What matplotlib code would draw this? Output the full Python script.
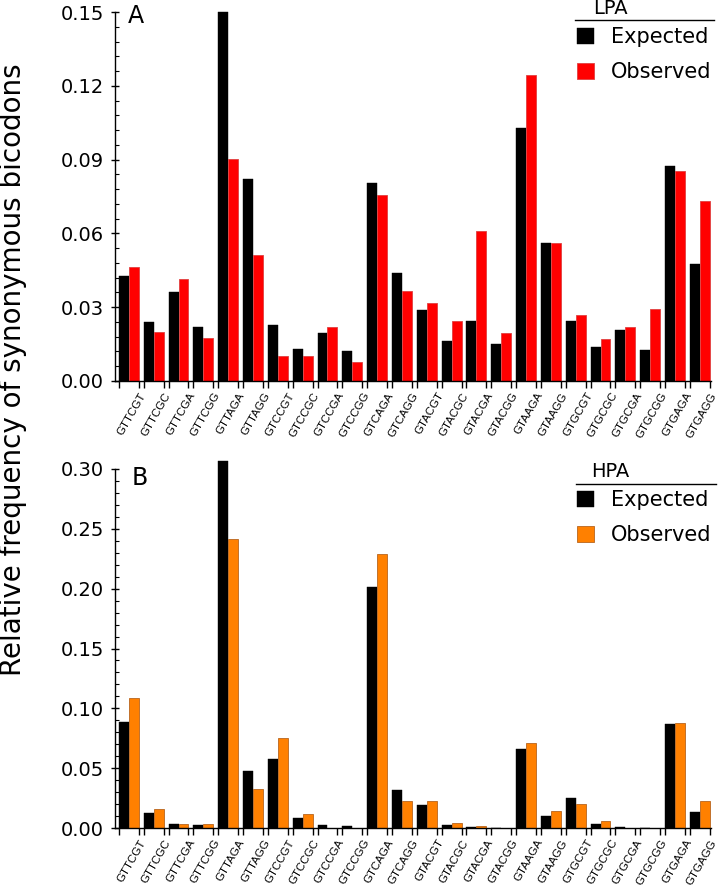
import matplotlib
matplotlib.use("Agg")
import matplotlib.pyplot as plt
from matplotlib.lines import Line2D
from matplotlib.ticker import MultipleLocator, FixedLocator
import numpy as np

plt.rc("font", family="DejaVu Sans")

bicodons = [
    "GTTCGT", "GTTCGC", "GTTCGA", "GTTCGG", "GTTAGA", "GTTAGG",
    "GTCCGT", "GTCCGC", "GTCCGA", "GTCCGG", "GTCAGA", "GTCAGG",
    "GTACGT", "GTACGC", "GTACGA", "GTACGG", "GTAAGA", "GTAAGG",
    "GTGCGT", "GTGCGC", "GTGCGA", "GTGCGG", "GTGAGA", "GTGAGG",
]

# panel A (LPA)
lpa_expected = [0.0425, 0.0241, 0.0361, 0.0221, 0.1500, 0.0822,
                0.0228, 0.0132, 0.0197, 0.0121, 0.0804, 0.0440,
                0.0288, 0.0164, 0.0243, 0.0151, 0.1029, 0.0561,
                0.0243, 0.0140, 0.0208, 0.0128, 0.0872, 0.0477]
lpa_observed = [0.0465, 0.0198, 0.0416, 0.0174, 0.0903, 0.0514,
                0.0100, 0.0100, 0.0221, 0.0076, 0.0757, 0.0365,
                0.0317, 0.0243, 0.0610, 0.0196, 0.1245, 0.0561,
                0.0268, 0.0171, 0.0219, 0.0292, 0.0855, 0.0732]

# panel B (HPA)
hpa_expected = [0.0885, 0.0125, 0.0036, 0.0022, 0.3070, 0.0476,
                0.0579, 0.0083, 0.0022, 0.0014, 0.2012, 0.0314,
                0.0189, 0.0028, 0.0008, 0.0, 0.0657, 0.0100,
                0.0250, 0.0033, 0.0011, 0.0003, 0.0871, 0.0134]
hpa_observed = [0.1083, 0.0161, 0.0036, 0.0036, 0.2416, 0.0328,
                0.0751, 0.0120, 0.0003, 0.0003, 0.2291, 0.0223,
                0.0223, 0.0039, 0.0019, 0.0, 0.0712, 0.0142,
                0.0203, 0.0061, 0.0003, 0.0003, 0.0879, 0.0223]

red = "#ff0000"
orange = "#ff8000"
W, H = 720, 886


def fx(px):
    return px / W


def fy(py):
    return 1 - py / H


fig = plt.figure(figsize=(7.2, 8.86), dpi=100)
ax_a = fig.add_axes([fx(115), fy(381), fx(711) - fx(115), fy(12) - fy(381)])
ax_b = fig.add_axes([fx(115), fy(828), fx(711) - fx(115), fy(469) - fy(828)])

x = np.arange(len(bicodons))
bw = 0.4


def draw_panel(ax, expected, observed, obs_color, obs_edge, ytop, ystep, yminor):
    ax.bar(x, expected, width=bw, align="edge", color="black",
           edgecolor="black", linewidth=0.3, clip_on=False, label="Expected")
    ax.bar(x + bw, observed, width=bw, align="edge", color=obs_color,
           edgecolor=obs_edge, linewidth=0.6, clip_on=False, label="Observed")
    ax.set_xlim(-0.16, len(bicodons) - 0.15)
    ax.set_ylim(0, ytop)
    ax.spines["top"].set_visible(False)
    ax.spines["right"].set_visible(False)
    ax.yaxis.set_major_locator(MultipleLocator(ystep))
    ax.yaxis.set_minor_locator(MultipleLocator(yminor))
    ax.yaxis.set_major_formatter(plt.FormatStrFormatter("%.2f"))
    ax.tick_params(axis="y", which="major", direction="inout", length=6,
                   width=1, labelsize=14, pad=5)
    ax.tick_params(axis="y", which="minor", direction="in", length=3, width=0.8)
    ax.xaxis.set_major_locator(FixedLocator(x + 2 * bw))
    ax.xaxis.set_minor_locator(FixedLocator(x))
    ax.set_xticklabels(bicodons, rotation=60, ha="right",
                       rotation_mode="anchor", fontsize=8.2,
                       family="Liberation Sans")
    ax.tick_params(axis="x", which="both", direction="out", length=5,
                   width=1, pad=2)
    ax.spines["left"].set_linewidth(1)
    ax.spines["bottom"].set_linewidth(1)


draw_panel(ax_a, lpa_expected, lpa_observed, red, "#e04040", 0.15, 0.03, 0.006)
draw_panel(ax_b, hpa_expected, hpa_observed, orange, "#b8651e", 0.30, 0.05, 0.01)

fig.text(fx(128), fy(4), "A", fontsize=17, ha="left", va="top")
fig.text(fx(132), fy(466), "B", fontsize=17, ha="left", va="top")


def legend_block(ax, title, title_y, line_y, top_y, line_x0, line_x1):
    fig.text(fx(610), fy(title_y), title, fontsize=14, ha="center", va="center")
    fig.add_artist(Line2D([fx(line_x0), fx(line_x1)], [fy(line_y), fy(line_y)],
                          color="black", lw=1))
    ax.legend(loc="upper left", bbox_to_anchor=(fx(577), fy(top_y)),
              bbox_transform=fig.transFigure, frameon=False, fontsize=15,
              handlelength=0.8, handleheight=0.8, handletextpad=0.85,
              labelspacing=0.72, borderpad=0, borderaxespad=0)


legend_block(ax_a, "LPA", 8, 20, 27, 575, 714)
legend_block(ax_b, "HPA", 472, 484, 490, 576, 716)

fig.text(fx(13), fy(370), "Relative frequency of synonymous bicodons",
         rotation=90, fontsize=20, ha="center", va="center")

fig.savefig("out.png", dpi=100)
